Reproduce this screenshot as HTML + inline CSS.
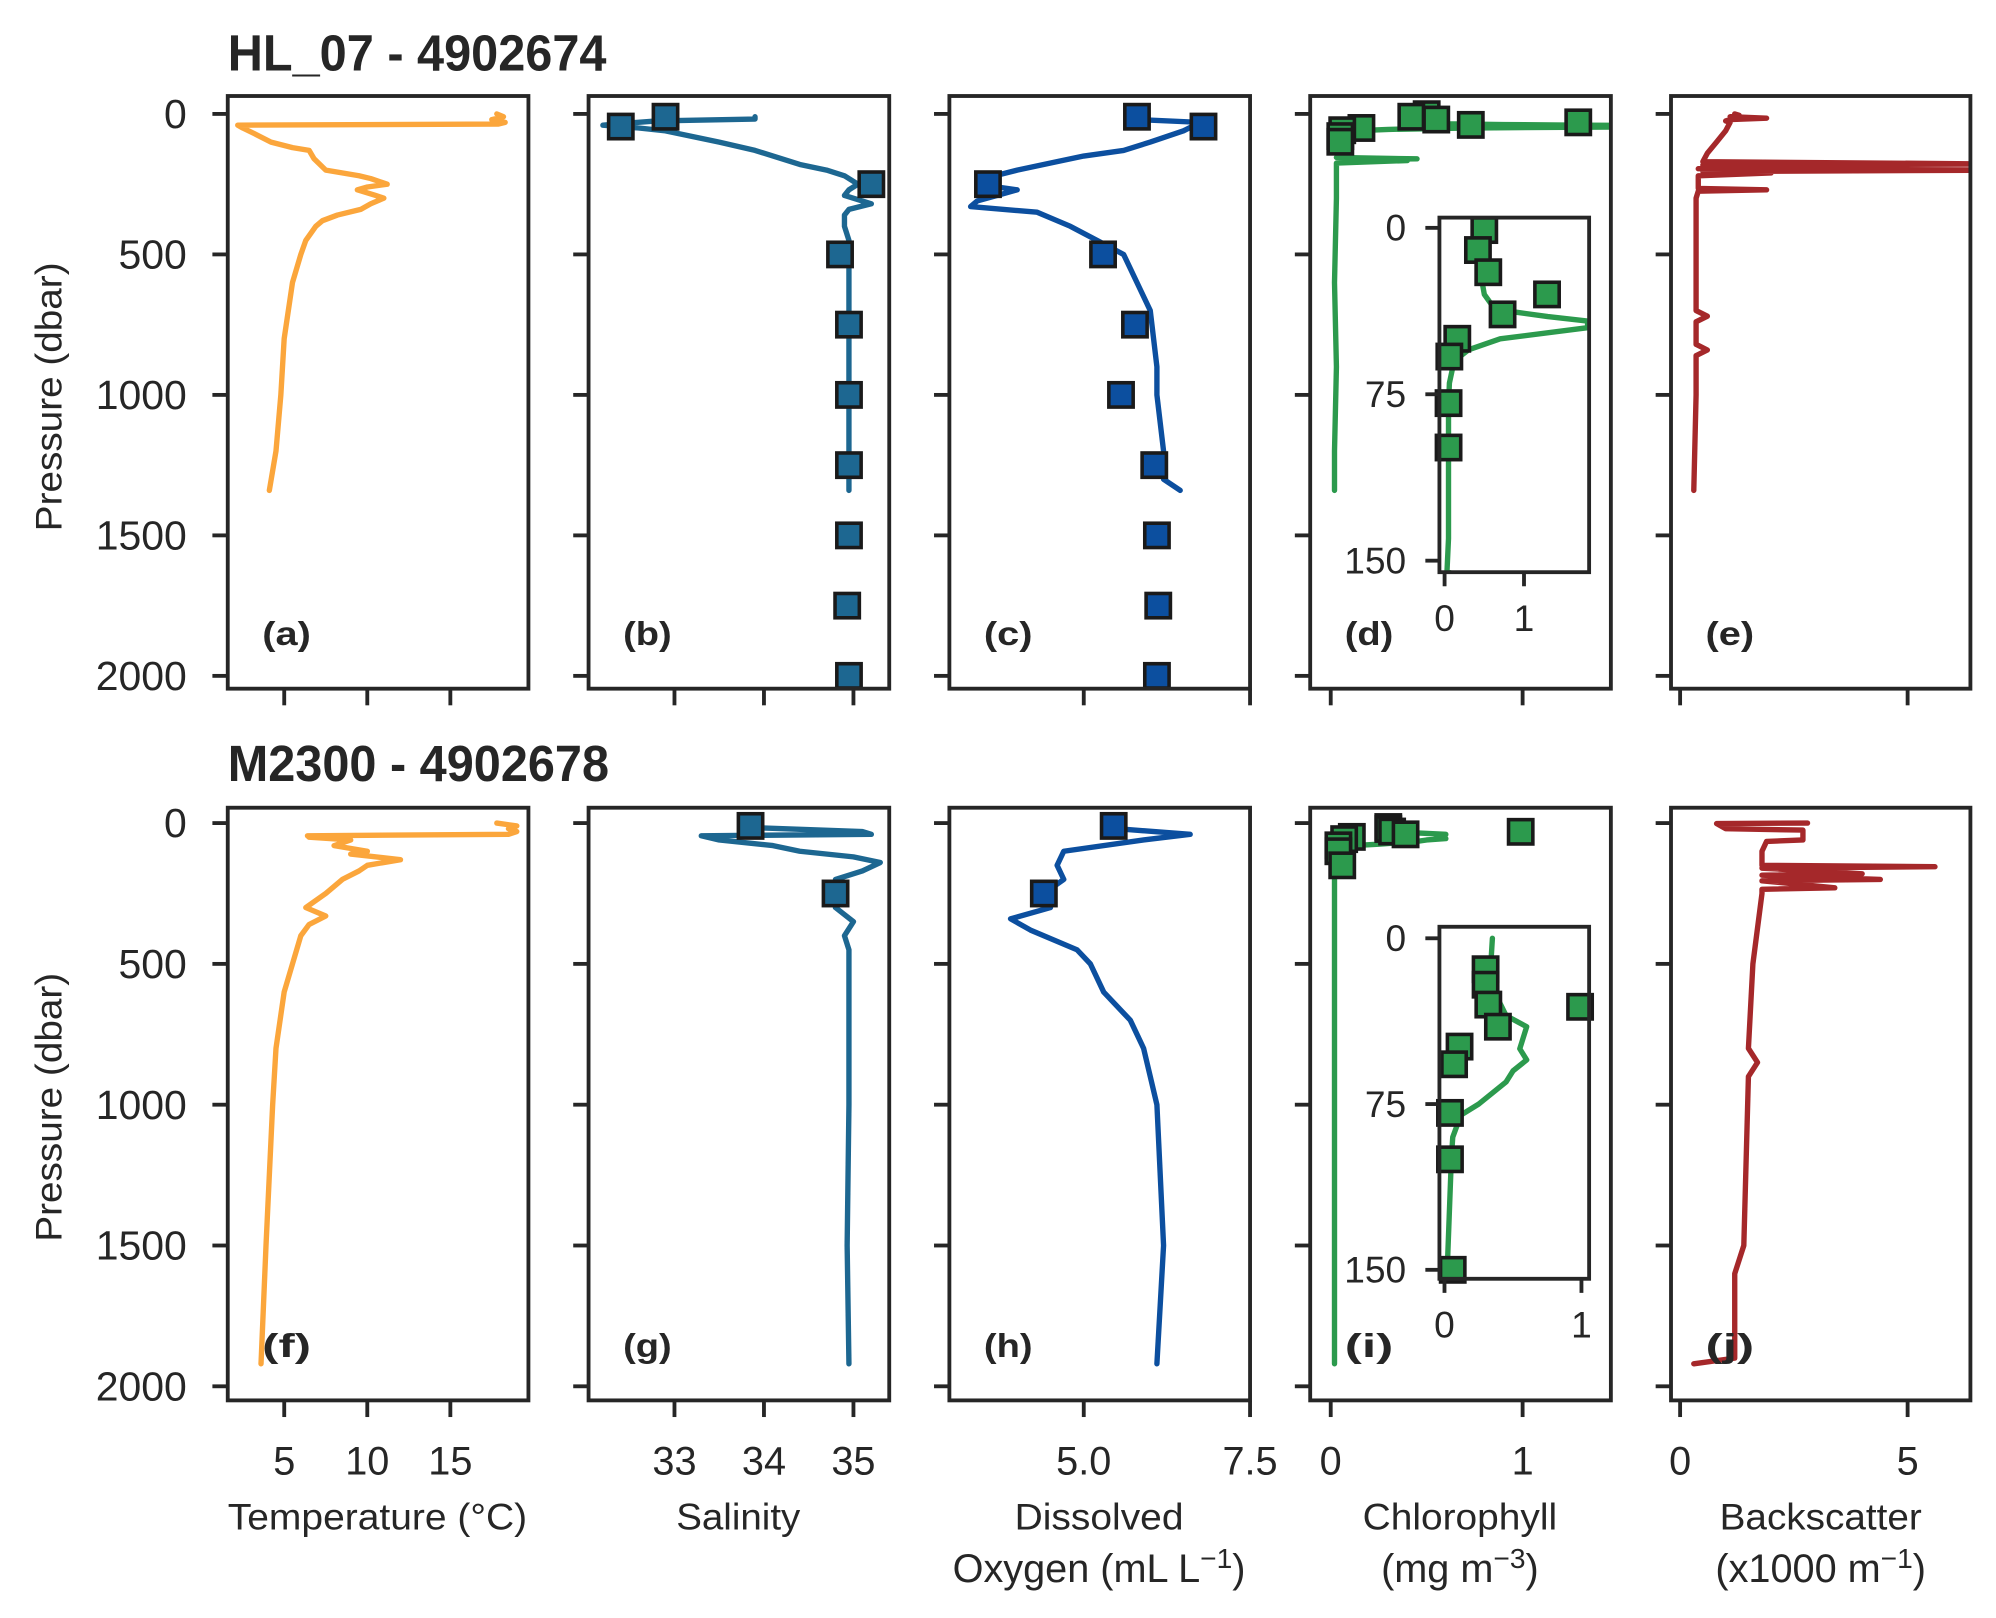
<!DOCTYPE html>
<html><head><meta charset="utf-8"><style>
html,body{margin:0;padding:0;background:#fff;width:1996px;height:1618px;overflow:hidden}
svg{display:block;overflow:hidden}
text{font-family:"Liberation Sans",Arial,sans-serif;fill:#262626}
</style></head><body>
<svg id="fig" width="1996" height="1618" viewBox="0 0 1560 1264" preserveAspectRatio="none" xmlns="http://www.w3.org/2000/svg"></svg>
<script>
// ===== data =====
const tempP1=[0,10,20,30,36,40,50,70,100,120,130,160,200,220,230,250,260,270,290,300,320,340,360,380,400,450,500,600,800,1000,1200,1340];
const tempV1=[17.8,18.2,17.5,18.3,17.9,2.2,2.5,3.2,4.2,5.5,6.5,6.8,7.5,9.5,10.2,11.2,10,9.4,10.5,11,10.2,9.6,8.2,7.3,6.9,6.3,6.0,5.5,5.0,4.8,4.5,4.1];
const salP1=[10,18,25,32,40,50,60,80,100,130,160,180,200,220,240,250,270,290,320,340,360,400,450,500,700,1000,1200,1340];
const salV1=[33.9,33.9,32.8,32.5,32.2,32.6,32.9,33.2,33.5,33.9,34.2,34.4,34.7,34.9,35.0,35.05,34.95,34.9,35.2,34.95,34.9,34.9,34.95,34.95,34.95,34.95,34.95,34.95];
const salBP1=[10,45,250,500,750,1000,1250,1500,1750,2000];
const salBV1=[32.9,32.4,35.2,34.85,34.95,34.95,34.95,34.95,34.93,34.95];
const oxP1=[20,30,60,100,130,150,170,200,230,250,270,290,310,330,350,380,400,450,500,600,700,900,1000,1200,1300,1340];
const oxV1=[5.8,6.75,6.5,6.0,5.6,5.0,4.6,4.0,3.5,3.4,4.0,3.7,3.4,3.3,4.3,4.6,4.8,5.2,5.6,5.8,6.0,6.1,6.1,6.2,6.2,6.45];
const oxBP1=[10,45,250,500,750,1000,1250,1500,1750,2000];
const oxBV1=[5.8,6.8,3.56,5.29,5.77,5.56,6.06,6.1,6.12,6.1];
const chlP1=[0,10,20,30,35,38,40,42,45,50,55,60,70,80,100,140,155,160,163,166,175,300,600,900,1200,1340];
const chlV1=[0.45,0.42,0.45,0.5,0.6,0.9,1.3,1.8,1.8,0.7,0.3,0.12,0.06,0.05,0.05,0.05,0.03,0.45,0.1,0.4,0.03,0.03,0.02,0.03,0.02,0.02];
const chlBP1=[1,10,20,30,39,50,58,79,99];
const chlBV1=[0.5,0.42,0.55,1.29,0.73,0.16,0.06,0.05,0.05];
const bbpP1=[0,5,10,15,20,25,30,60,100,140,170,178,182,190,195,200,205,210,220,240,265,270,275,300,500,700,720,740,820,840,860,1000,1340];
const bbpV1=[1.2,1.3,1.1,1.9,1.1,1.0,1.1,1.0,0.8,0.6,0.5,7.0,0.5,3.0,0.4,7.0,0.5,2.0,0.4,0.4,0.4,1.9,0.4,0.35,0.35,0.35,0.6,0.35,0.35,0.6,0.35,0.35,0.3];
const tempP2=[0,10,20,30,40,45,50,60,80,100,110,130,150,170,200,250,300,330,360,400,500,600,800,1000,1500,1920];
const tempV2=[17.8,19,18.5,19,18.5,6.4,6.5,9,8,10,9,12,10,9.5,8.5,7.5,6.3,7.5,6.5,6,5.5,5,4.5,4.3,3.9,3.6];
const salP2=[0,15,30,40,45,60,80,100,120,140,170,200,250,300,350,400,450,500,700,1000,1500,1920];
const salV2=[33.9,33.8,35.1,35.2,33.3,33.5,34.1,34.4,35.0,35.3,35.1,34.8,34.9,34.8,35.0,34.9,34.95,34.95,34.95,34.95,34.93,34.95];
const salBP2=[10,250];
const salBV2=[33.85,34.8];
const oxP2=[0,20,40,60,100,150,200,250,300,340,380,450,500,600,700,800,900,1000,1500,1920];
const oxV2=[5.6,5.5,6.6,5.9,4.7,4.6,4.7,4.4,4.5,3.9,4.2,4.9,5.1,5.3,5.7,5.9,6.0,6.1,6.2,6.1];
const oxBP2=[10,250];
const oxBV2=[5.45,4.4];
const chlP2=[0,20,35,40,50,55,60,65,75,80,90,100,150,400,800,1200,1600,1920];
const chlV2=[0.35,0.33,0.45,0.6,0.55,0.6,0.5,0.45,0.25,0.12,0.06,0.05,0.02,0.02,0.02,0.02,0.02,0.02];
const chlBP2=[14,21,30,31,40,49,57,79,100,150];
const chlBV2=[0.3,0.3,0.32,0.99,0.39,0.11,0.07,0.04,0.04,0.06];
const bbpP2=[0,2,20,25,60,65,100,150,155,160,180,185,200,205,230,235,250,500,800,850,900,1500,1600,1900,1920];
const bbpV2=[2.8,0.8,1.0,2.7,2.7,1.9,1.8,1.8,5.6,1.8,4.0,1.8,4.4,1.8,3.4,1.8,1.8,1.6,1.5,1.7,1.5,1.4,1.2,1.2,0.3];

// ===== drawing =====
const NS="http://www.w3.org/2000/svg";
const svg=document.getElementById('fig');
function el(tag,attrs,parent){const e=document.createElementNS(NS,tag);for(const k in attrs)e.setAttribute(k,attrs[k]);(parent||svg).appendChild(e);return e;}
const INK="#262626";
const cols=[{x0:178,x1:413},{x0:460,x1:695},{x0:742,x1:977},{x0:1024,x1:1259},{x0:1306,x1:1540}];
const rows=[{y0:75,y1:538,p0:89,p2000:528},{y0:631,y1:1094,p0:643,p2000:1083}];
const xdom=[[1.6,19.7],[32.04,35.4],[2.98,7.5],[-0.107,1.46],[-0.2,6.38]];
const xticks=[[5,10,15],[33,34,35],[5.0,7.5],[0,1],[0,5]];
const xtickLabels=[["5","10","15"],["33","34","35"],["5.0","7.5"],["0","1"],["0","5"]];
const yticks=[0,500,1000,1500,2000];
const colors=["#fba63c","#1d6791","#0c4f9f","#2c9a4d","#a5282a"];
const letters=[["(a)","(b)","(c)","(d)","(e)"],["(f)","(g)","(h)","(i)","(j)"]];
const lines=[[[tempP1,tempV1],[salP1,salV1],[oxP1,oxV1],[chlP1,chlV1],[bbpP1,bbpV1]],
             [[tempP2,tempV2],[salP2,salV2],[oxP2,oxV2],[chlP2,chlV2],[bbpP2,bbpV2]]];
const bottles=[[null,[salBP1,salBV1],[oxBP1,oxBV1],[chlBP1,chlBV1],null],
               [null,[salBP2,salBV2],[oxBP2,oxBV2],[chlBP2,chlBV2],null]];
const names=["temperature","salinity","oxygen","chlorophyll","backscatter"];
const LW=4.2, FW=3, MS=19;
let cid=0;
function sc(d0,d1,r0,r1){return v=>r0+(v-d0)/(d1-d0)*(r1-r0);}
function drawLine(g,P,V,xs,ys,color,name){
  const d=P.map((p,i)=>(i?'L':'M')+xs(V[i]).toFixed(1)+','+ys(p).toFixed(1)).join('');
  const path=el('path',{d:d,fill:'none',stroke:color,'stroke-width':LW,'stroke-linejoin':'round','stroke-linecap':'round'},g);
  
  
}
function drawSquares(g,P,V,xs,ys,color,name,sz){
  P.forEach((p,i)=>{
    const r=el('rect',{x:xs(V[i])-sz/2,y:ys(p)-sz/2,width:sz,height:sz,fill:color,stroke:'#1a1a1a','stroke-width':2.8},g);
    
    
  });
}
function clip(x0,y0,x1,y1){const id='c'+(cid++);const cp=el('clipPath',{id:id});el('rect',{x:x0,y:y0,width:x1-x0,height:y1-y0},cp);return 'url(#'+id+')';}

rows.forEach((R,ri)=>{
  const ys=sc(0,2000,R.p0,R.p2000);
  cols.forEach((C,ci)=>{
    const g=el('g',{});
    
    
    const xs=sc(xdom[ci][0],xdom[ci][1],C.x0,C.x1);
    const dg=el('g',{'clip-path':clip(C.x0,R.y0,C.x1,R.y1)},g);
    drawLine(dg,lines[ri][ci][0],lines[ri][ci][1],xs,ys,colors[ci],names[ci]+'-profile');
    if(bottles[ri][ci]) drawSquares(dg,bottles[ri][ci][0],bottles[ri][ci][1],xs,ys,colors[ci],names[ci]+'-bottle-sample',MS);
    const fr=el('rect',{x:C.x0,y:R.y0,width:C.x1-C.x0,height:R.y1-R.y0,fill:'none',stroke:INK,'stroke-width':FW},g);
    
    
    yticks.forEach(t=>{
      el('line',{x1:C.x0-12,x2:C.x0,y1:ys(t),y2:ys(t),stroke:INK,'stroke-width':FW},g);
      if(ci===0){const tx=el('text',{x:146,y:ys(t)+11,'text-anchor':'end','font-size':32},g);tx.textContent=t;
        
        }
    });
    xticks[ci].forEach((t,k)=>{
      el('line',{x1:xs(t),x2:xs(t),y1:R.y1,y2:R.y1+13,stroke:INK,'stroke-width':FW},g);
      if(ri===1){const tx=el('text',{x:xs(t),y:1152,'text-anchor':'middle','font-size':31},g);tx.textContent=xtickLabels[ci][k];
        
        }
    });
    const lt=el('text',{x:C.x0+27,y:R.y1-34,'font-size':26,'font-weight':'bold','textLength':38,'lengthAdjust':'spacingAndGlyphs'},g);lt.textContent=letters[ri][ci];
    
    
  });
  const yl=el('text',{x:0,y:0,'text-anchor':'middle','font-size':29,'textLength':210,'lengthAdjust':'spacingAndGlyphs',transform:'translate(48,'+(ri?865:310)+') rotate(-90)'});yl.textContent='Pressure (dbar)';
  
  
});
// insets
const insets=[{x0:1125,x1:1242,y0:170,y1:447,p0y:178,p150y:438,xd:[-0.065,1.82],ln:[chlP1,chlV1],bt:[chlBP1,chlBV1]},
              {x0:1125,x1:1242,y0:724,y1:999,p0y:733,p150y:992,xd:[-0.037,1.056],ln:[chlP2,chlV2],bt:[chlBP2,chlBV2]}];
insets.forEach((I,k)=>{
  const g=el('g',{});
  
  
  el('rect',{x:I.x0,y:I.y0,width:I.x1-I.x0,height:I.y1-I.y0,fill:'#fff'},g);
  const xs=sc(I.xd[0],I.xd[1],I.x0,I.x1), ys=sc(0,150,I.p0y,I.p150y);
  const dg=el('g',{'clip-path':clip(I.x0,I.y0,I.x1,I.y1)},g);
  drawLine(dg,I.ln[0],I.ln[1],xs,ys,colors[3],'inset-chlorophyll-profile');
  const sg=el('g',{},g);
  drawSquares(sg,I.bt[0],I.bt[1],xs,ys,colors[3],'inset-chlorophyll-bottle',MS);
  el('rect',{x:I.x0,y:I.y0,width:I.x1-I.x0,height:I.y1-I.y0,fill:'none',stroke:INK,'stroke-width':FW},g);
  [0,75,150].forEach(t=>{el('line',{x1:I.x0-11,x2:I.x0,y1:ys(t),y2:ys(t),stroke:INK,'stroke-width':FW},g);
    const tx=el('text',{x:I.x0-26,y:ys(t)+10,'text-anchor':'end','font-size':29},g);tx.textContent=t;
    
    });
  [0,1].forEach(t=>{el('line',{x1:xs(t),x2:xs(t),y1:I.y1,y2:I.y1+11,stroke:INK,'stroke-width':FW},g);
    const tx=el('text',{x:xs(t),y:I.y1+46,'text-anchor':'middle','font-size':29},g);tx.textContent=t;
    
    });
});
// titles and x labels
function txt(s,x,y,attrs,name){const t=el('text',Object.assign({x:x,y:y},attrs));t.innerHTML=s;
  
  return t;}
txt('HL_07 - 4902674',178,55,{'font-size':40,'font-weight':'bold','textLength':296,'lengthAdjust':'spacingAndGlyphs'},'row-title-hl07');
txt('M2300 - 4902678',178,610,{'font-size':40,'font-weight':'bold','textLength':298,'lengthAdjust':'spacingAndGlyphs'},'row-title-m2300');
txt('Temperature (°C)',295,1195,{'font-size':29,'text-anchor':'middle','textLength':234,'lengthAdjust':'spacingAndGlyphs'},'x-axis-title-temperature');
txt('Salinity',577,1195,{'font-size':29,'text-anchor':'middle','textLength':97,'lengthAdjust':'spacingAndGlyphs'},'x-axis-title-salinity');
txt('Dissolved',859,1195,{'font-size':29,'text-anchor':'middle','textLength':132,'lengthAdjust':'spacingAndGlyphs'},'x-axis-title-oxygen');
txt('Oxygen (mL L<tspan dy="-11" font-size="22">−1</tspan><tspan dy="11">)</tspan>',859,1236,{'font-size':31,'text-anchor':'middle'},'x-axis-title-oxygen-units');
txt('Chlorophyll',1141,1195,{'font-size':29,'text-anchor':'middle','textLength':152,'lengthAdjust':'spacingAndGlyphs'},'x-axis-title-chlorophyll');
txt('(mg m<tspan dy="-11" font-size="22">−3</tspan><tspan dy="11">)</tspan>',1141,1236,{'font-size':31,'text-anchor':'middle'},'x-axis-title-chlorophyll-units');
txt('Backscatter',1423,1195,{'font-size':29,'text-anchor':'middle','textLength':158,'lengthAdjust':'spacingAndGlyphs'},'x-axis-title-backscatter');
txt('(x1000 m<tspan dy="-11" font-size="22">−1</tspan><tspan dy="11">)</tspan>',1423,1236,{'font-size':31,'text-anchor':'middle'},'x-axis-title-backscatter-units');
</script>
</body></html>
